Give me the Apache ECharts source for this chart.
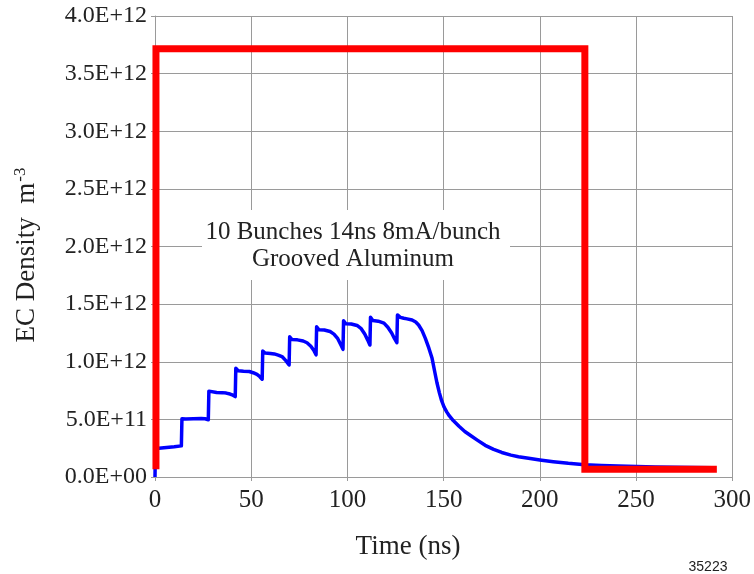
<!DOCTYPE html>
<html>
<head>
<meta charset="utf-8">
<script src="https://cdn.jsdelivr.net/npm/echarts@6/dist/echarts.min.js"></script>
<style>
html,body{margin:0;padding:0;background:#fff;}
#chart{width:754px;height:574px;}
</style>
</head>
<body>
<div id="chart"></div>
<script>
// Time axis ticks (ns)
const xTickLabels = ['0','50','100','150','200','250','300'];
// Density ticks (units of 1E12 m^-3)
const yTickLabels = ['0.0E+00','5.0E+11','1.0E+12','1.5E+12','2.0E+12','2.5E+12','3.0E+12','3.5E+12','4.0E+12'];

// Blue curve: EC density (1E12 m^-3) vs time (ns)
const blueT = [0,0.2,2,6,10,13.7,
  14,16,20,24,26,27.7,
  28,29,32,35,37,39,40.5,41.7,
  42,43.2,46,49,51,53,54.5,55.7,
  56,57.2,60,62,64,66,68,69.7,
  70,71.2,74,77,79,81,82.5,83.7,
  84,85.2,88,91,93,95,96.5,97.7,
  98,99.2,102,105,107,109,110.5,111.7,
  112,113.2,116,119,121,123,124.5,125.7,
  126,127.5,129.3,131,133.6,135.5,137,138.8,140.5,142.3,144,145.3,146.5,147.8,149,150.3,151.6,153,155,158,161,164,167.5,171.6,176,180.2,185,188.9,195,200,207,214.8,223.4,232,240.7,260,290];
const blueV = [0,0.25,0.249,0.255,0.262,0.27,
  0.505,0.503,0.505,0.508,0.505,0.497,
  0.745,0.735,0.733,0.732,0.728,0.72,0.71,0.698,
  0.943,0.922,0.918,0.915,0.905,0.89,0.87,0.848,
  1.093,1.075,1.072,1.068,1.058,1.045,1.01,0.972,
  1.217,1.192,1.19,1.18,1.165,1.135,1.1,1.06,
  1.304,1.278,1.275,1.262,1.24,1.2,1.15,1.108,
  1.356,1.33,1.328,1.315,1.29,1.24,1.19,1.145,
  1.386,1.358,1.352,1.335,1.3,1.25,1.2,1.165,
  1.406,1.385,1.377,1.372,1.362,1.345,1.319,1.27,1.203,1.12,1.03,0.92,0.82,0.73,0.66,0.605,0.565,0.53,0.49,0.44,0.395,0.36,0.32,0.275,0.24,0.213,0.19,0.176,0.16,0.148,0.133,0.119,0.107,0.1,0.095,0.087,0.08];

// Red curve: bunch train envelope
const redT = [0.5,0.5,223.4,223.4,292];
const redV = [0.067,3.716,3.716,0.067,0.067];

const serif = "'Liberation Serif','Times New Roman',serif";
const textColor = '#222';
const gridColor = '#9a9a9a';

const chart = echarts.init(document.getElementById('chart'), null, {renderer:'canvas'});
chart.setOption({
  animation:false,
  backgroundColor:'#fff',
  grid:{left:155,right:20,top:16,bottom:97,containLabel:false},
  xAxis:{
    type:'value',min:0,max:300,interval:50,
    axisLine:{show:true,lineStyle:{color:gridColor,width:1}},
    axisTick:{show:true,length:4,lineStyle:{color:gridColor}},
    splitLine:{show:true,lineStyle:{color:gridColor,width:1}},
    axisLabel:{fontFamily:serif,fontSize:25,color:textColor,margin:11,
      formatter:(v)=>xTickLabels[Math.round(v/50)]}
  },
  yAxis:{
    type:'value',min:0,max:4,interval:0.5,
    axisLine:{show:true,lineStyle:{color:gridColor,width:1}},
    axisTick:{show:true,length:4,lineStyle:{color:gridColor}},
    splitLine:{show:true,lineStyle:{color:gridColor,width:1}},
    axisLabel:{fontFamily:serif,fontSize:24,color:textColor,margin:8,
      formatter:(v)=>yTickLabels[Math.round(v/0.5)]}
  },
  series:[
    {type:'line',data:blueT.map((t,i)=>[t,blueV[i]]),showSymbol:false,symbol:'none',
      lineStyle:{color:'#0000ff',width:3.5,join:'round'},z:2},
    {type:'line',data:redT.map((t,i)=>[t,redV[i]]),showSymbol:false,symbol:'none',
      lineStyle:{color:'#ff0000',width:7,join:'miter',cap:'butt'},z:3}
  ],
  graphic:[
    {type:'rect',shape:{x:202,y:210,width:308,height:70},style:{fill:'#fff'},z:10},
    {type:'text',x:353,y:232,z:11,style:{text:'10 Bunches 14ns 8mA/bunch',font:'25px '+serif,fill:textColor,align:'center',verticalAlign:'middle'}},
    {type:'text',x:353,y:259,z:11,style:{text:'Grooved Aluminum',font:'25px '+serif,fill:textColor,align:'center',verticalAlign:'middle'}},
    {type:'text',x:408,y:547,z:11,style:{text:'Time (ns)',font:'27px '+serif,fill:textColor,align:'center',verticalAlign:'middle'}},
    {type:'text',x:27,y:255,rotation:Math.PI/2,z:11,style:{
      text:'{n|EC Density  m}{s|-3}',align:'center',verticalAlign:'middle',
      rich:{n:{fontFamily:serif,fontSize:27,fill:textColor,color:textColor},
            s:{fontFamily:serif,fontSize:17,fill:textColor,color:textColor,verticalAlign:'top',padding:[0,0,12,1]}}}},
    {type:'text',x:708,y:567,z:11,style:{text:'35223',font:'14px "Liberation Sans",Arial,sans-serif',fill:'#222',align:'center',verticalAlign:'middle'}}
  ]
});
</script>
</body>
</html>
